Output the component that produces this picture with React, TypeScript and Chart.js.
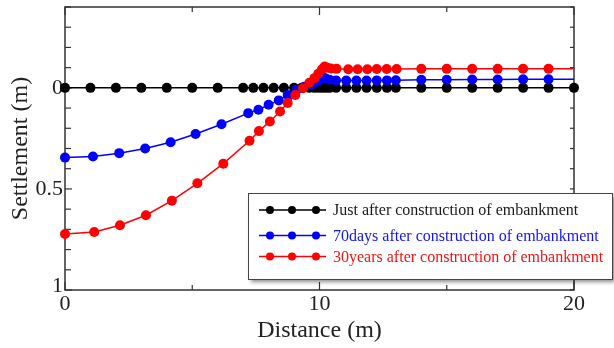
import React, { useEffect, useRef } from "react";
import { Chart, registerables } from "chart.js";

Chart.register(...registerables);

// ---- data ----
const seriesLabels = [
  "Just after construction of embankment",
  "70days after construction of embankment",
  "30years after construction of embankment",
];

const blackX = [0, 1, 2, 3, 4, 5, 6, 7, 7.4, 7.8, 8.2, 8.6, 9.0, 9.3, 9.6, 9.8, 9.95, 10.1, 10.25, 10.4, 10.65, 11.05, 11.45, 11.85, 12.25, 12.65, 13, 14, 15, 16, 17, 18, 19, 20];
const blackY = [0, 0, 0, 0, 0, 0, 0, 0, 0, 0, 0, 0, 0, 0, 0, 0, 0, 0, 0, 0, 0, 0, 0, 0, 0, 0, 0, 0, 0, 0, 0, 0, 0, 0];

const blueX = [0, 1.1, 2.13, 3.15, 4.15, 5.13, 6.15, 7.2, 7.6, 8.0, 8.4, 8.75, 9.1, 9.4, 9.7, 9.9, 10.05, 10.15, 10.25, 10.4, 10.65, 11.05, 11.45, 11.85, 12.25, 12.65, 13, 14, 15, 16, 17, 18, 19, 20];
const blueY = [0.345, 0.34, 0.323, 0.3, 0.269, 0.228, 0.18, 0.125, 0.108, 0.084, 0.062, 0.035, 0.01, -0.005, -0.018, -0.03, -0.045, -0.052, -0.046, -0.04, -0.037, -0.036, -0.036, -0.036, -0.037, -0.037, -0.038, -0.04, -0.04, -0.041, -0.041, -0.042, -0.042, -0.042];

const redX = [0, 1.15, 2.16, 3.18, 4.2, 5.2, 6.22, 7.25, 7.62, 8.05, 8.45, 8.75, 9.05, 9.35, 9.6, 9.8, 9.95, 10.1, 10.2, 10.3, 10.45, 10.67, 11.13, 11.5, 11.88, 12.25, 12.64, 13.03, 14, 15, 16, 17, 18, 19, 20];
const redY = [0.723, 0.713, 0.68, 0.63, 0.558, 0.472, 0.375, 0.262, 0.214, 0.166, 0.117, 0.075, 0.035, 0.002, -0.025, -0.048, -0.07, -0.092, -0.106, -0.1, -0.096, -0.094, -0.092, -0.092, -0.092, -0.093, -0.093, -0.093, -0.094, -0.094, -0.094, -0.094, -0.095, -0.095, -0.095];

const xTickValues = [0, 10, 20];
const xTickLabels = ["0", "10", "20"];
const xMinorTickValues = [5, 15];
const yLabelValues = [0, 0.5, 1];
const yTickLabels = ["0", "0.5", "1"];

const xTitle = "Distance (m)";
const yTitle = "Settlement (m)";

const colors = ["#000000", "#0000ff", "#ff0000"];
const legendTextColors = ["#1a1a1a", "#1414f0", "#f01414"];

const SERIF = "'Liberation Serif', 'DejaVu Serif', serif";

const toPoints = (xs: number[], ys: number[]) => xs.map((x, i) => ({ x, y: ys[i] }));

const isLabelled = (v: number) => yLabelValues.some((l) => Math.abs(l - v) < 1e-6);

const framePlugin = {
  id: "frame",
  beforeDatasetsDraw(chart: any) {
    const { ctx, chartArea: a, scales } = chart;
    const xs = scales.x;
    const ys = scales.y;
    ctx.save();
    ctx.strokeStyle = "#333";
    ctx.lineWidth = 1.5;
    ctx.strokeRect(a.left, a.top, a.right - a.left, a.bottom - a.top);
    ctx.lineWidth = 1.2;
    const line = (x1: number, y1: number, x2: number, y2: number) => {
      ctx.beginPath();
      ctx.moveTo(x1, y1);
      ctx.lineTo(x2, y2);
      ctx.stroke();
    };
    ys.ticks.forEach((t: any) => {
      const py = ys.getPixelForValue(t.value);
      const len = isLabelled(t.value) ? 7 : 6;
      line(a.left, py, a.left + len, py);
      line(a.right, py, a.right - 4, py);
    });
    xTickValues.forEach((v) => {
      const px = xs.getPixelForValue(v);
      line(px, a.bottom, px, a.bottom - 8);
      line(px, a.top, px, a.top + 8);
    });
    xMinorTickValues.forEach((v) => {
      const px = xs.getPixelForValue(v);
      line(px, a.bottom, px, a.bottom - 5);
      line(px, a.top, px, a.top + 5);
    });
    // tick labels
    ctx.fillStyle = "#222";
    ctx.font = `22px ${SERIF}`;
    ctx.textBaseline = "middle";
    ctx.textAlign = "right";
    yLabelValues.forEach((v, i) => {
      let py = ys.getPixelForValue(v);
      if (i === yLabelValues.length - 1) py -= 4;
      ctx.fillText(yTickLabels[i], a.left - 2, py);
    });
    ctx.textAlign = "center";
    xTickValues.forEach((v, i) => {
      ctx.fillText(xTickLabels[i], xs.getPixelForValue(v), a.bottom + 14);
    });
    // axis titles
    ctx.font = `24px ${SERIF}`;
    ctx.fillText(xTitle, (a.left + a.right) / 2, 331);
    ctx.save();
    ctx.translate(21, (a.top + a.bottom) / 2);
    ctx.rotate(-Math.PI / 2);
    ctx.fillText(yTitle, 0, 0);
    ctx.restore();
    ctx.restore();
  },
  afterDraw(chart: any) {
    const { ctx } = chart;
    ctx.save();
    // legend box
    const bx = 248, by = 193, bw = 364, bh = 86;
    ctx.shadowColor = "rgba(0,0,0,0.45)";
    ctx.shadowBlur = 4;
    ctx.shadowOffsetX = 3;
    ctx.shadowOffsetY = 3;
    ctx.fillStyle = "#ffffff";
    ctx.fillRect(bx, by, bw, bh);
    ctx.shadowColor = "transparent";
    ctx.strokeStyle = "#444";
    ctx.lineWidth = 1;
    ctx.strokeRect(bx + 0.5, by + 0.5, bw, bh);
    const rows = [210, 235.5, 256.5];
    ctx.font = `16px ${SERIF}`;
    ctx.textAlign = "left";
    ctx.textBaseline = "middle";
    seriesLabels.forEach((label, i) => {
      const y = rows[i];
      ctx.strokeStyle = colors[i];
      ctx.fillStyle = colors[i];
      ctx.lineWidth = 1.5;
      ctx.beginPath();
      ctx.moveTo(259, y);
      ctx.lineTo(326, y);
      ctx.stroke();
      [270, 292, 316].forEach((cx) => {
        ctx.beginPath();
        ctx.arc(cx, y, 4, 0, Math.PI * 2);
        ctx.fill();
      });
      ctx.fillStyle = legendTextColors[i];
      ctx.fillText(label, 333, y + 1);
    });
    ctx.restore();
  },
};

export default function App() {
  const ref = useRef<HTMLCanvasElement | null>(null);

  useEffect(() => {
    if (!ref.current) return;
    const radii = (xs: number[], hideLast: boolean) =>
      xs.map((_, i) => (hideLast && i === xs.length - 1 ? 0 : 5));
    const mk = (i: number, xs: number[], ys: number[], hideLast: boolean, order: number) => ({
      label: seriesLabels[i],
      data: toPoints(xs, ys),
      borderColor: colors[i],
      backgroundColor: colors[i],
      pointBackgroundColor: colors[i],
      pointBorderWidth: 0,
      pointRadius: radii(xs, hideLast),
      borderWidth: 1.5,
      tension: 0,
      clip: false as const,
      order,
    });
    const chart = new Chart(ref.current, {
      type: "line",
      data: {
        datasets: [
          mk(0, blackX, blackY, false, 2),
          mk(1, blueX, blueY, true, 1),
          mk(2, redX, redY, true, 0),
        ],
      },
      options: {
        animation: false,
        responsive: false,
        layout: { padding: { top: 7, right: 40, left: 0, bottom: 0 } },
        plugins: { legend: { display: false }, tooltip: { enabled: false } },
        scales: {
          x: {
            type: "linear",
            min: 0,
            max: 20,
            grid: { display: false, drawTicks: false },
            border: { display: false },
            afterFit: (s: any) => {
              s.height = 58;
            },
            ticks: { display: false, stepSize: 5 },
          },
          y: {
            type: "linear",
            reverse: true,
            min: -0.4,
            max: 1,
            grid: { display: false, drawTicks: false },
            border: { display: false },
            afterFit: (s: any) => {
              s.width = 65;
            },
            ticks: { display: false, stepSize: 0.1 },
          },
        },
      } as any,
      plugins: [framePlugin],
    });
    return () => chart.destroy();
  }, []);

  return (
    <div style={{ position: "absolute", left: 0, top: 0, width: 614, height: 348, background: "#fff" }}>
      <canvas ref={ref} width={614} height={348} style={{ display: "block" }} />
    </div>
  );
}
